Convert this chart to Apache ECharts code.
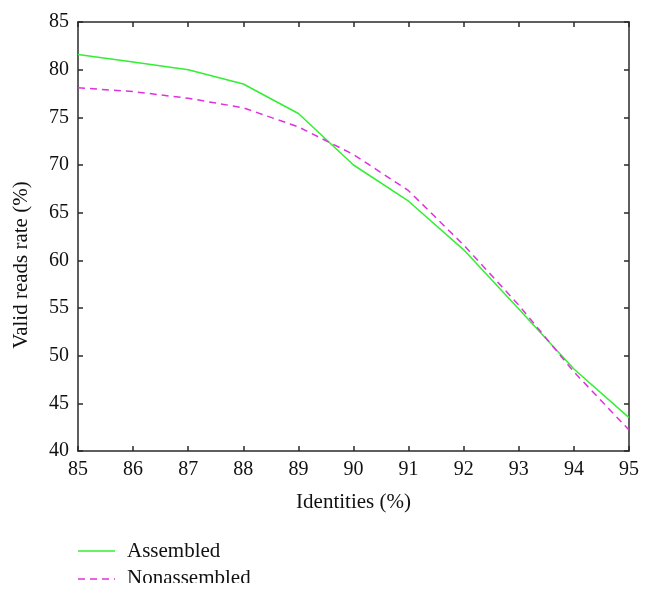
<!DOCTYPE html>
<html>
<head>
<meta charset="utf-8">
<script src="https://cdn.jsdelivr.net/npm/echarts@6/dist/echarts.min.js"></script>
<style>html,body{margin:0;padding:0;background:#fff}#c{width:651px;height:597px}</style>
</head>
<body>
<div id="c"></div>
<script>
var identities = [85, 86, 87, 88, 89, 90, 91, 92, 93, 94, 95];
var assembled = [81.6, 80.8, 80.0, 78.5, 75.4, 70.0, 66.2, 61.1, 54.9, 48.6, 43.5];
var nonassembled = [78.1, 77.7, 77.0, 76.0, 74.0, 71.1, 67.3, 61.6, 55.3, 48.3, 42.2];
var seriesNames = ['Assembled', 'Nonassembled'];
var seriesColors = ['#33ee33', '#dd33dd'];
var xTitle = 'Identities (%)';
var yTitle = 'Valid reads rate (%)';

function pairs(xs, ys) { return xs.map(function (x, i) { return [x, ys[i]]; }); }

var font = 'Liberation Serif';
var axisCol = '#2a2a2a';
var chart = echarts.init(document.getElementById('c'), null, { renderer: 'canvas' });
var baseAxis = {
  type: 'value',
  axisLine: { show: true, lineStyle: { color: axisCol, width: 1.5 } },
  axisTick: { show: true, inside: true, length: 5, lineStyle: { color: axisCol, width: 1.5 } },
  splitLine: { show: false }
};
var dash = [7, 5];
chart.setOption({
  backgroundColor: '#fff',
  animation: false,
  grid: { left: 78, right: 22, top: 22, bottom: 146 },
  xAxis: [
    Object.assign({}, baseAxis, {
      min: 85, max: 95, interval: 1, position: 'bottom',
      name: xTitle, nameLocation: 'middle', nameGap: 41,
      nameTextStyle: { fontFamily: font, fontSize: 21, color: '#111' },
      axisLabel: { fontFamily: font, fontSize: 20, color: '#111', margin: 9 }
    }),
    Object.assign({}, baseAxis, {
      min: 85, max: 95, interval: 1, position: 'top', axisLabel: { show: false }
    })
  ],
  yAxis: [
    Object.assign({}, baseAxis, {
      min: 40, max: 85, interval: 5, position: 'left',
      axisLabel: { fontFamily: font, fontSize: 20, color: '#111', margin: 9 }
    }),
    Object.assign({}, baseAxis, {
      min: 40, max: 85, interval: 5, position: 'right', axisLabel: { show: false }
    })
  ],
  series: [
    { name: seriesNames[0], type: 'line', data: pairs(identities, assembled), symbol: 'none',
      lineStyle: { color: seriesColors[0], width: 1.5 } },
    { name: seriesNames[1], type: 'line', data: pairs(identities, nonassembled), symbol: 'none',
      lineStyle: { color: seriesColors[1], width: 1.5, type: dash } }
  ],
  graphic: [
    { type: 'text', x: 21, y: 265, rotation: Math.PI / 2,
      style: { text: yTitle, font: '21px "' + font + '"', fill: '#111', align: 'center', verticalAlign: 'middle' } },
    { type: 'line', shape: { x1: 78, y1: 551, x2: 115, y2: 551 },
      style: { stroke: seriesColors[0], lineWidth: 1.5 } },
    { type: 'text', x: 127, y: 551,
      style: { text: seriesNames[0], font: '21px "' + font + '"', fill: '#111', verticalAlign: 'middle' } },
    { type: 'line', shape: { x1: 78, y1: 579, x2: 115, y2: 579 },
      style: { stroke: seriesColors[1], lineWidth: 1.5, lineDash: dash } },
    { type: 'text', x: 127, y: 578,
      style: { text: seriesNames[1], font: '21px "' + font + '"', fill: '#111', verticalAlign: 'middle' } },
    { type: 'rect', z: 100, shape: { x: 0, y: 583, width: 651, height: 14 }, style: { fill: '#fff' } }
  ]
});
</script>
</body>
</html>
